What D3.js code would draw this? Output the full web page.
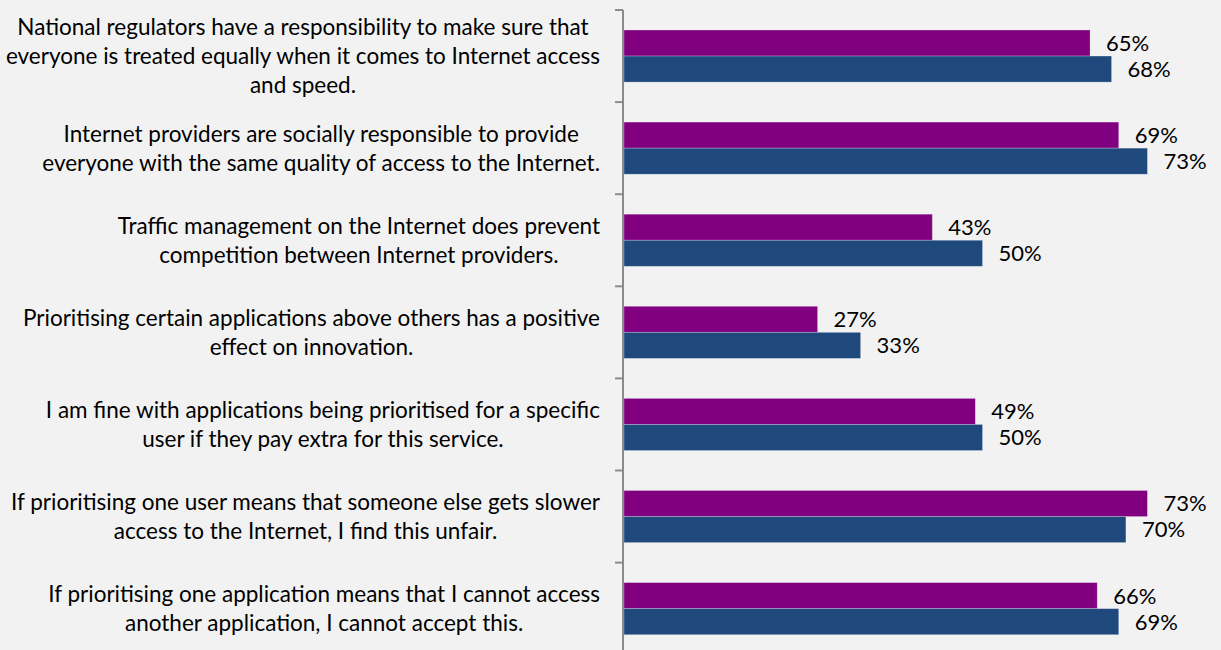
<!DOCTYPE html>
<html>
<head>
<meta charset="utf-8">
<script src="https://cdn.jsdelivr.net/npm/d3@7"></script>
<style>
  html, body { margin: 0; padding: 0; background: #f2f2f2; }
  svg { display: block; }
  text { font-family: Lato, "Open Sans", sans-serif; fill: #000; }
</style>
</head>
<body>
<svg id="chart" width="1221" height="650"></svg>
<script>
// Statement labels, one entry per line of text
const categories = [
  ["National regulators have a responsibility to make sure that",
   "everyone is treated equally when it comes to Internet access",
   "and speed."],
  ["Internet providers are socially responsible to provide",
   "everyone with the same quality of access to the Internet."],
  ["Traffic management on the Internet does prevent",
   "competition between Internet providers."],
  ["Prioritising certain applications above others has a positive",
   "effect on innovation."],
  ["I am fine with applications being prioritised for a specific",
   "user if they pay extra for this service."],
  ["If prioritising one user means that someone else gets slower",
   "access to the Internet, I find this unfair."],
  ["If prioritising one application means that I cannot access",
   "another application, I cannot accept this."]
];
const seriesNames = ["A", "B"];
const seriesA = [65, 69, 43, 27, 49, 73, 66];
const seriesB = [68, 73, 50, 33, 50, 70, 69];
const colors = ["#800080", "#1f497d"];

const svg = d3.select("#chart");
const axisX = 623;
const plotTop = 10, step = 92.1;

const idx = d3.range(categories.length);
const y = d3.scaleBand()
  .domain(idx)
  .range([plotTop, plotTop + step * categories.length])
  .paddingInner(0).paddingOuter(0);

const ySub = d3.scaleBand()
  .domain(seriesNames)
  .range([20, y.bandwidth() - 20]);

const x = d3.scaleLinear().domain([0, 100]).range([axisX + 1, axisX + 1 + 717]);

const data = idx.map(i => ({ i, values: [seriesA[i], seriesB[i]] }));

const groups = svg.selectAll("g.cat")
  .data(data)
  .enter().append("g")
  .attr("class", "cat")
  .attr("transform", d => `translate(0,${y(d.i)})`);

groups.selectAll("rect")
  .data(d => d.values.map((v, k) => ({ v, k })))
  .enter().append("rect")
  .attr("x", x(0))
  .attr("y", d => ySub(seriesNames[d.k]))
  .attr("width", d => x(d.v) - x(0))
  .attr("height", ySub.bandwidth())
  .attr("fill", d => colors[d.k])
  .attr("stroke", "rgba(255,255,255,0.3)")
  .attr("stroke-width", 0.8);

groups.selectAll("text.val")
  .data(d => d.values.map((v, k) => ({ v, k })))
  .enter().append("text")
  .attr("class", "val")
  .attr("x", d => x(d.v) + 16)
  .attr("y", d => ySub(seriesNames[d.k]) + ySub.bandwidth() / 2)
  .attr("dy", "0.36em")
  .style("font-size", "22px")
  .text(d => d.v + "%");

// Category labels: block right-aligned to the axis, lines centred within block
const labelRight = 600, lineH = 29;
groups.each(function(d) {
  const g = d3.select(this);
  const lines = categories[d.i];
  const t = g.append("text").attr("class", "cat-label").style("font-size", "22.5px")
    .attr("text-anchor", "middle");
  const tspans = lines.map((ln, j) => t.append("tspan")
    .attr("y", y.bandwidth() / 2 + (j - (lines.length - 1) / 2) * lineH)
    .attr("dy", "0.36em")
    .text(ln));
  let maxW = 0;
  tspans.forEach(ts => { maxW = Math.max(maxW, ts.node().getComputedTextLength()); });
  tspans.forEach(ts => ts.attr("x", labelRight - maxW / 2));
});

// Vertical category axis with tick marks between groups
svg.append("line")
  .attr("x1", axisX).attr("x2", axisX)
  .attr("y1", plotTop).attr("y2", 650)
  .attr("stroke", "#8c8c8c").attr("stroke-width", 2);
svg.selectAll("line.tick")
  .data(idx)
  .enter().append("line")
  .attr("class", "tick")
  .attr("x1", axisX - 8).attr("x2", axisX)
  .attr("y1", d => y(d)).attr("y2", d => y(d))
  .attr("stroke", "#8c8c8c").attr("stroke-width", 2);
</script>
</body>
</html>
